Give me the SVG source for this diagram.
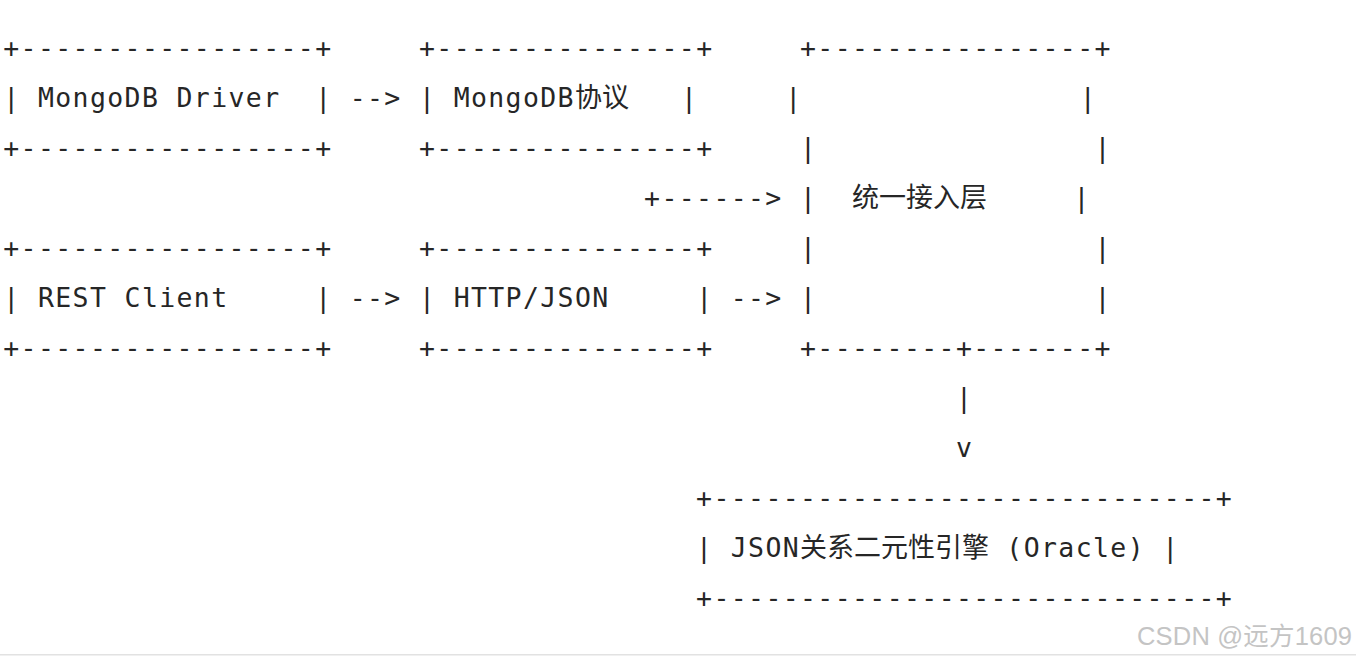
<svg xmlns="http://www.w3.org/2000/svg" width="1356" height="660" viewBox="0 0 1356 660">
<style>
  text { font-family: "DejaVu Sans Mono", "Liberation Mono", monospace; font-size: 26.5px; letter-spacing: 1.37px; fill: #262626; white-space: pre; }
  .cjk { font-family: "Noto Sans CJK SC", "Noto Sans", sans-serif; font-size: 27px; letter-spacing: 0; }
  .wm { font-family: "Liberation Sans", "Noto Sans CJK SC", sans-serif; font-size: 25.5px; letter-spacing: 0; fill: #c4c4c4; }
</style>
<rect width="1356" height="660" fill="#ffffff"/>
<g id="node-mongodb-driver">
  <text x="3.3" y="57" xml:space="preserve">+-----------------+</text>
  <text x="3.3" y="107" xml:space="preserve">| MongoDB Driver  |</text>
  <text x="3.3" y="157" xml:space="preserve">+-----------------+</text>
</g>
<g id="node-mongodb-protocol">
  <text x="419" y="57" xml:space="preserve">+---------------+</text>
  <text x="419" y="107" xml:space="preserve">| MongoDB<tspan class="cjk">协议</tspan>   |</text>
  <text x="419" y="157" xml:space="preserve">+---------------+</text>
</g>
<g id="node-rest-client">
  <text x="3.3" y="257" xml:space="preserve">+-----------------+</text>
  <text x="3.3" y="307" xml:space="preserve">| REST Client     |</text>
  <text x="3.3" y="357" xml:space="preserve">+-----------------+</text>
</g>
<g id="node-http-json">
  <text x="419" y="257" xml:space="preserve">+---------------+</text>
  <text x="419" y="307" xml:space="preserve">| HTTP/JSON     |</text>
  <text x="419" y="357" xml:space="preserve">+---------------+</text>
</g>
<g id="node-unified-access">
  <text x="800" y="57" xml:space="preserve">+----------------+</text>
  <text x="785.2" y="107" xml:space="preserve">|                |</text>
  <text x="800" y="157" xml:space="preserve">|                |</text>
  <text x="800" y="207" xml:space="preserve">|  <tspan class="cjk">统一接入层</tspan>     |</text>
  <text x="800" y="257" xml:space="preserve">|                |</text>
  <text x="800" y="307" xml:space="preserve">|                |</text>
  <text x="800" y="357" xml:space="preserve">+--------+-------+</text>
</g>
<g id="node-json-engine">
  <text x="696.1" y="507" xml:space="preserve">+-----------------------------+</text>
  <text x="696.1" y="557" xml:space="preserve">| JSON<tspan class="cjk">关系二元性引擎</tspan> (Oracle) |</text>
  <text x="696.1" y="607" xml:space="preserve">+-----------------------------+</text>
</g>
<g id="connectors">
  <text x="349.7" y="107" xml:space="preserve">--&gt;</text>
  <text x="349.7" y="307" xml:space="preserve">--&gt;</text>
  <text x="730.7" y="307" xml:space="preserve">--&gt;</text>
  <text x="644.1" y="207" xml:space="preserve">+------&gt;</text>
  <text x="955.9" y="407" xml:space="preserve">|</text>
  <text x="955.9" y="457" xml:space="preserve">v</text>
</g>
<rect x="0" y="654" width="1356" height="1.5" fill="#e2e2e2"/>
<text class="wm" x="1137" y="645" textLength="215" lengthAdjust="spacing">CSDN @远方1609</text>
</svg>
